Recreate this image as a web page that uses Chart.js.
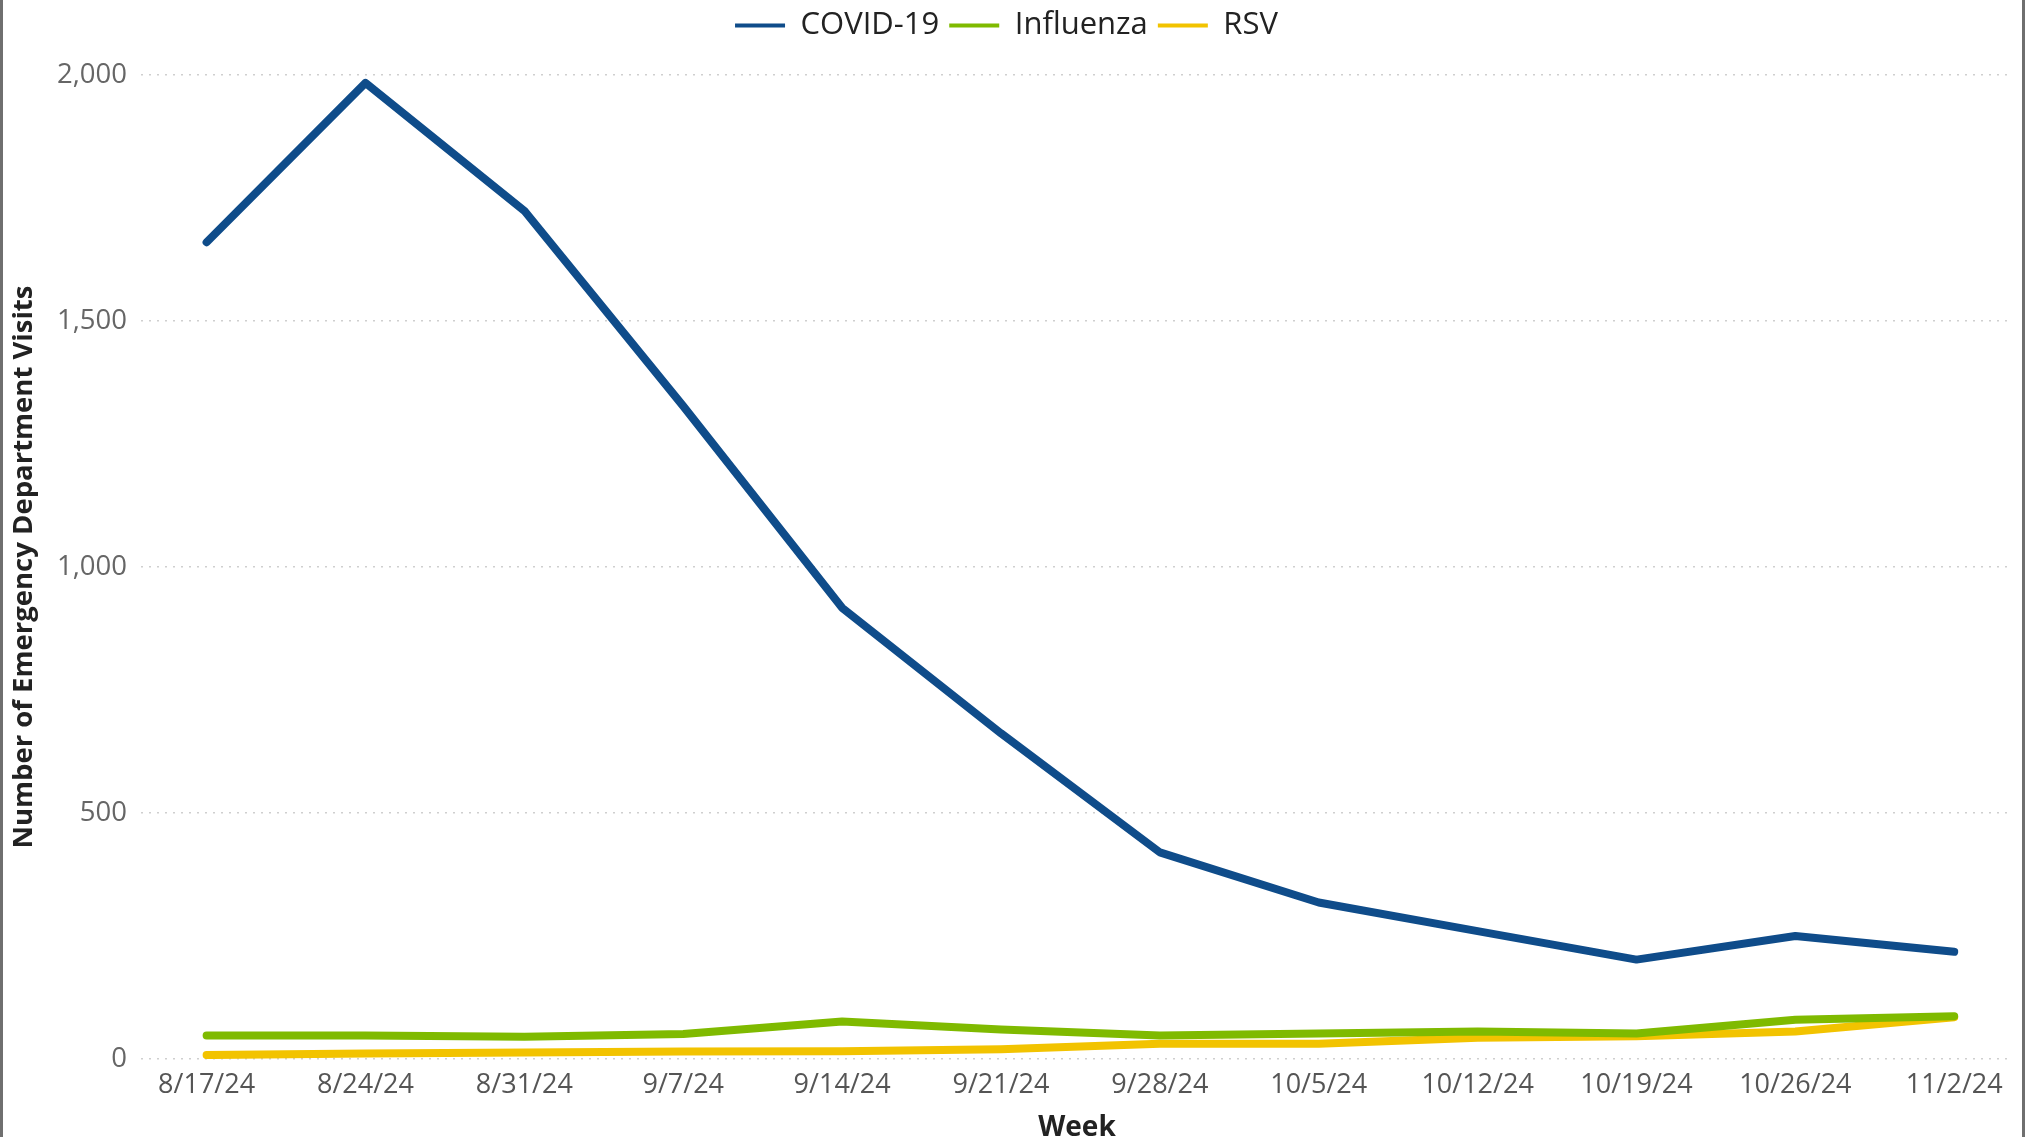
<!DOCTYPE html>
<html>
<head>
<meta charset="utf-8">
<script src="https://cdn.jsdelivr.net/npm/chart.js@4.4.1/dist/chart.umd.min.js"></script>
<style>
  body { margin: 0; background: #fff; }
  #wrap { position: relative; width: 2025px; height: 1137px; }
  #frame { position: absolute; left: 0; top: 0; width: 2019px; height: 1137px;
           border-left: 3px solid #6f6f6f; border-right: 3px solid #6f6f6f; pointer-events: none; }
</style>
</head>
<body>
<div id="wrap">
  <canvas id="chart" width="2025" height="1137"></canvas>
  <div id="frame"></div>
</div>
<script>
// weekly ED visits
const weeks = ["8/17/24", "8/24/24", "8/31/24", "9/7/24", "9/14/24", "9/21/24",
               "9/28/24", "10/5/24", "10/12/24", "10/19/24", "10/26/24", "11/2/24"];
const covid = [1660, 1984, 1724, 1327, 917, 662, 420, 318, 260, 202, 250, 218];
const influenza = [48, 48, 45, 51, 76, 60, 48, 52, 56, 52, 80, 87];
const rsv = [8, 11, 13, 15, 16, 20, 31, 31, 43, 46, 56, 85];
const yTicks = [0, 500, 1000, 1500, 2000];

const FONT = "'Open Sans', 'Noto Sans', sans-serif";

function series(label, values, color) {
    return {
        label: label,
        data: values.map((v, i) => ({ x: i, y: v })),
        borderColor: color,
        backgroundColor: color,
        borderWidth: 8,
        pointRadius: 0,
        tension: 0,
        borderCapStyle: 'round',
        borderJoinStyle: 'round'
    };
}

// extra room below the legend
const legendGap = {
    id: 'legendGap',
    beforeLayout: function(chart) {
        const lg = chart.legend;
        if (lg && !lg._gapped) {
            const fit = lg.fit.bind(lg);
            lg.fit = function() { fit(); this.height += 24; };
            lg._gapped = true;
        }
    }
};

new Chart(document.getElementById('chart').getContext('2d'), {
    type: 'line',
    data: {
        datasets: [
            series('COVID-19', covid, '#0f4c8a'),
            series('Influenza', influenza, '#7fba00'),
            series('RSV', rsv, '#f2c300')
        ]
    },
    options: {
        responsive: false,
        animation: false,
        devicePixelRatio: 1,
        layout: { padding: { left: 0, right: 12, top: 0, bottom: 0 } },
        plugins: {
            tooltip: { enabled: false },
            legend: {
                position: 'top',
                labels: {
                    font: { family: FONT, size: 31 },
                    color: '#222',
                    boxWidth: 50,
                    boxHeight: 4,
                    padding: 10,
                    generateLabels: function(chart) {
                        const items = Chart.defaults.plugins.legend.labels.generateLabels(chart);
                        items.forEach(it => { it.lineWidth = 0; });
                        return items;
                    }
                }
            }
        },
        scales: {
            x: {
                type: 'linear',
                min: -0.413,
                max: 11.37,
                grid: { display: false },
                border: { display: false },
                afterBuildTicks: function(scale) {
                    scale.ticks = weeks.map((w, i) => ({ value: i }));
                },
                afterFit: function(scale) { scale.height = 78; },
                ticks: {
                    autoSkip: false,
                    maxRotation: 0,
                    padding: 2,
                    color: '#555',
                    font: { family: FONT, size: 27 },
                    callback: function(v) { return weeks[v] !== undefined ? weeks[v] : ''; }
                },
                title: {
                    display: true,
                    text: 'Week',
                    color: '#222',
                    padding: { top: 0, bottom: 0 },
                    font: { family: FONT, size: 28, weight: 'bold', lineHeight: 0.65 }
                }
            },
            y: {
                min: 0,
                max: 2000,
                border: { display: false, dash: [2, 6] },
                grid: {
                    color: '#cfcfcf',
                    lineWidth: 1.5,
                    drawTicks: false
                },
                afterBuildTicks: function(scale) {
                    scale.ticks = yTicks.map(v => ({ value: v }));
                },
                afterFit: function(scale) { scale.width = 141; },
                ticks: {
                    padding: 14,
                    color: '#666',
                    font: { family: FONT, size: 27.5 },
                    callback: function(v) { return v.toLocaleString('en-US'); }
                },
                title: {
                    display: true,
                    text: 'Number of Emergency Department Visits',
                    color: '#222',
                    padding: { top: 8, bottom: 0 },
                    font: { family: FONT, size: 27.5, weight: 'bold' }
                }
            }
        }
    },
    plugins: [legendGap]
});
</script>
</body>
</html>
